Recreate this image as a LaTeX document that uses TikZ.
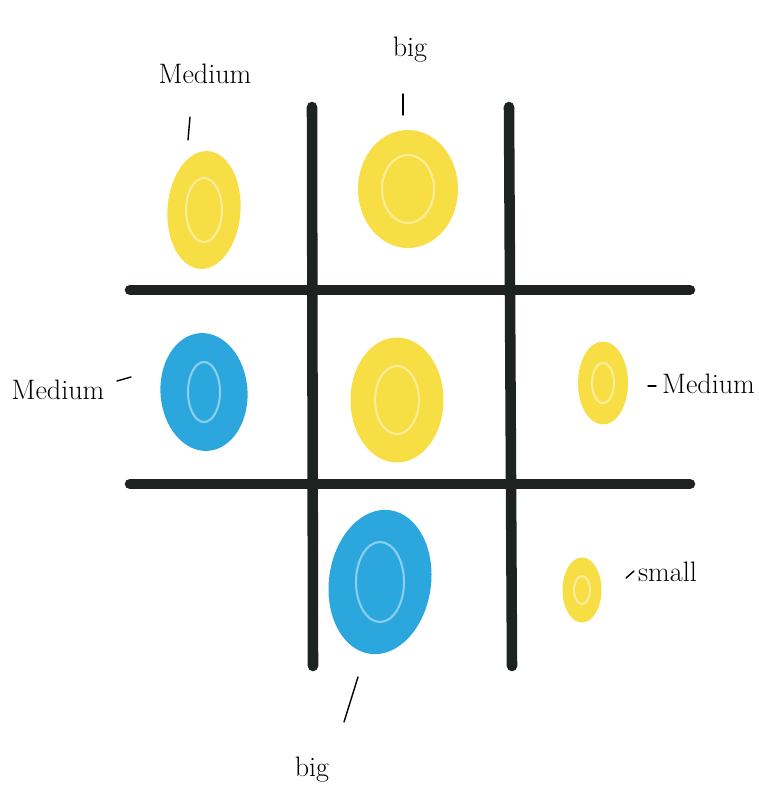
\documentclass[tikz,border=0pt]{standalone}
\usetikzlibrary{shapes.geometric}
\definecolor{crayonyellow}{HTML}{F8DE45}
\definecolor{crayonblue}{HTML}{2BA7DE}
\definecolor{gridink}{HTML}{1E2322}
\tikzset{
  gridline/.style={line width=6pt,line cap=round,color=gridink},
  blob/.style={ellipse,inner sep=0pt},
  tick/.style={line width=.8pt,line cap=round},
  word/.style={font=\fontsize{16}{16}\selectfont,inner sep=1pt}
}
\begin{document}
\begin{tikzpicture}[x=.02cm,y=-.02cm]
\useasboundingbox (0,0) rectangle (759,798);

% grid
\draw[gridline] (312,107)--(313,666);
\draw[gridline] (509,107)--(512,666);
\draw[gridline] (130,290)--(690,290);
\draw[gridline] (130,484)--(690,484);

% pieces
\node[blob,fill=crayonyellow,minimum width=1.46cm,minimum height=2.36cm,rotate=-4] (tl) at (204,210) {};
\node[blob,fill=crayonyellow,minimum width=2.0cm,minimum height=2.36cm] (tm) at (408,189) {};
\node[blob,fill=crayonblue,minimum width=1.74cm,minimum height=2.36cm,rotate=4] (ml) at (204,392) {};
\node[blob,fill=crayonyellow,minimum width=1.86cm,minimum height=2.5cm] (mm) at (397,400) {};
\node[blob,fill=crayonyellow,minimum width=1.0cm,minimum height=1.66cm] (mr) at (603,383) {};
\node[blob,fill=crayonblue,minimum width=2.04cm,minimum height=2.9cm,rotate=-8] (bm) at (380,582) {};
\node[blob,fill=crayonyellow,minimum width=.78cm,minimum height=1.3cm] (br) at (582,590) {};

% scribble rings
\foreach \p/\rx/\ry in {tl/18/32,tm/26/34,ml/16/30,mm/22/34,mr/11/20,bm/24/40,br/8/14}
  \draw[white,opacity=.45,line width=1.2pt] (\p.center) ellipse (\rx*.02cm and \ry*.02cm);

% labels
\node[word] (tlword) at (205,74) {Medium};
\node[word] (tmword) at (410,50) {big};
\node[word] (mlword) at (58,390) {Medium};
\node[word,anchor=west] (mrword) at (660,384) {Medium};
\node[word,anchor=west] (brword) at (636,572) {small};
\node[word] (bmword) at (312,770) {big};

\coordinate (tla) at (190,117); \coordinate (tlb) at (188,140);
\coordinate (tma) at (403,94); \coordinate (tmb) at (403,115);
\coordinate (mla) at (117,381); \coordinate (mlb) at (131,377);
\coordinate (mra) at (648,386); \coordinate (mrb) at (656,386);
\coordinate (bra) at (626,578); \coordinate (brb) at (634,571);
\coordinate (bma) at (344,722); \coordinate (bmb) at (358,677);

\draw[tick] (tla)--(tlb);
\draw[tick] (tma)--(tmb);
\draw[tick] (mla)--(mlb);
\draw[tick] (mra)--(mrb);
\draw[tick] (bra)--(brb);
\draw[tick] (bma)--(bmb);
\end{tikzpicture}
\end{document}
